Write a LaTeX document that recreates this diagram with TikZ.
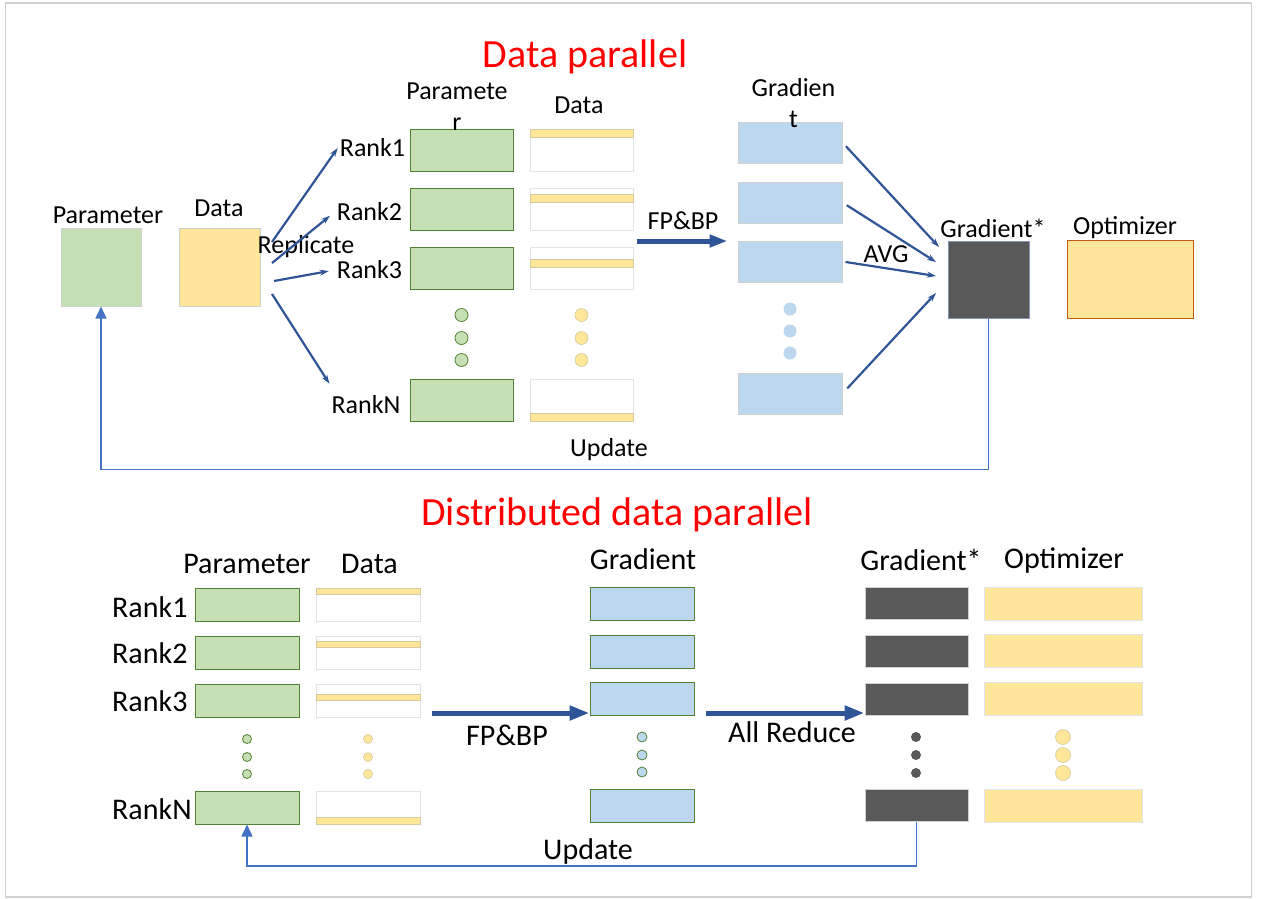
\documentclass[tikz,border=0pt]{standalone}
\usepackage{fontspec}
\setmainfont{Carlito}
\usetikzlibrary{arrows.meta, positioning}

\definecolor{parfill}{HTML}{C5E0B4}
\definecolor{pardraw}{HTML}{548235}
\definecolor{datfill}{HTML}{FFE699}
\definecolor{datdraw}{HTML}{E3E3EC}
\definecolor{stripedraw}{HTML}{D5CB9E}
\definecolor{gradfill}{HTML}{BDD7EE}
\definecolor{gstarfill}{HTML}{595959}
\definecolor{gstardraw}{HTML}{8497B0}
\definecolor{optdraw}{HTML}{C55A11}
\definecolor{flow}{HTML}{2F5597}
\definecolor{updline}{HTML}{4472C4}
\definecolor{lightline}{HTML}{D0D0D0}

\begin{document}
\begin{tikzpicture}[
    x=1pt, y=-1pt,
    lab/.style={font=\fontsize{26}{31}\selectfont, inner sep=2pt, align=center},
    blab/.style={font=\fontsize{30}{36}\selectfont, inner sep=2pt},
    title/.style={font=\fontsize{40}{48}\selectfont, text=red, inner sep=2pt},
    cell/.style={rectangle, inner sep=0pt, line width=1pt},
    parbox/.style={cell, fill=parfill, draw=pardraw, minimum width=103pt, minimum height=42pt},
    datbox/.style={cell, fill=white, draw=datdraw, minimum width=103pt, minimum height=42pt},
    stripe/.style={cell, fill=datfill, draw=stripedraw, line width=0.8pt, minimum width=103pt, minimum height=8pt},
    gradbox/.style={cell, fill=gradfill, draw=lightline, minimum width=104pt, minimum height=41pt},
    bparbox/.style={parbox, minimum width=104pt, minimum height=33pt},
    bdatbox/.style={datbox, minimum width=104pt, minimum height=33pt},
    bstripe/.style={stripe, minimum width=104pt, minimum height=6.5pt},
    bgradbox/.style={gradbox, draw=pardraw, minimum height=33pt},
    bgstar/.style={cell, fill=gstarfill, draw=lightline, minimum width=103pt, minimum height=32pt},
    bopt/.style={cell, fill=datfill, draw=datdraw, minimum width=158pt, minimum height=33pt},
    pdot/.style={circle, inner sep=0pt, minimum size=13pt, fill=parfill, draw=pardraw, line width=0.8pt},
    ydot/.style={circle, inner sep=0pt, minimum size=13pt, fill=datfill, draw=stripedraw, line width=0.6pt},
    gdot/.style={circle, inner sep=0pt, minimum size=13pt, fill=gradfill},
    rep/.style={draw=flow, line width=2.2pt, -{Stealth[length=9pt, width=6pt]}},
    big/.style={draw=flow, line width=5pt, -{Triangle[length=18pt, width=12pt]}},
    back/.style={draw=updline, line width=1.5pt, -{Triangle[length=12pt, width=11pt]}}
  ]

  \useasboundingbox (0,0) rectangle (1261,898);
  % Khung ngoài
  \draw[lightline, line width=1.2pt] (5.5,3) rectangle (1251.5,897);

  % Tiêu đề
  \node[title] (tdp) at (585,57) {Data parallel};
  \node[title] (tddp) at (617,515) {Distributed data parallel};

  % ---- Data parallel ----
  \node[cell, fill=parfill, draw=lightline, minimum width=80pt, minimum height=78pt] (param) at (101,267) {};
  \node[cell, fill=datfill, draw=lightline, minimum width=81pt, minimum height=78pt] (data) at (219.5,267) {};
  \node[lab] (lparam) at (108,215) {Parameter};
  \node[lab] (ldata) at (219,208) {Data};
  \node[lab] (lrep) at (306,247) {Replicate};

  \node[lab] (r1) at (372.5,148) {Rank1};
  \node[lab] (r2) at (369.5,212) {Rank2};
  \node[lab] (r3) at (369.5,270) {Rank3};
  \node[lab] (rN) at (366,405) {RankN};

  \node[parbox] (p1) at (461.5,150) {};
  \node[parbox] (p2) at (461.5,209) {};
  \node[parbox] (p3) at (461.5,268.5) {};
  \node[parbox] (pN) at (461.5,400) {};
  \node[pdot] (pd1) at (461.5,315) {};
  \node[pdot] (pd2) at (461.5,338) {};
  \node[pdot] (pd3) at (461.5,360) {};

  \node[datbox] (d1) at (581.5,150) {};
  \node[datbox] (d2) at (581.5,209) {};
  \node[datbox] (d3) at (581.5,268.5) {};
  \node[datbox] (dN) at (581.5,400) {};
  \node[stripe, below=0pt of d1.north] (s1) {};
  \node[stripe, below=6pt of d2.north] (s2) {};
  \node[stripe, below=12pt of d3.north] (s3) {};
  \node[stripe, above=0pt of dN.south] (sN) {};
  \node[ydot] (dd1) at (581.5,315) {};
  \node[ydot] (dd2) at (581.5,338) {};
  \node[ydot] (dd3) at (581.5,360) {};

  \node[gradbox] (g1) at (790,142.5) {};
  \node[gradbox] (g2) at (790,202.5) {};
  \node[gradbox] (g3) at (790,261.5) {};
  \node[gradbox] (gN) at (790,393.5) {};
  \node[gdot] (gd1) at (790,309) {};
  \node[gdot] (gd2) at (790,331) {};
  \node[gdot] (gd3) at (790,353) {};

  % nhãn cột (vẽ sau để nằm trên hộp)
  \node[lab] (lcolp) at (457,107) {Paramete\\r};
  \node[lab] (lcold) at (579,105.5) {Data};
  \node[lab] (lcolg) at (793.5,103) {Gradien\\t};

  \node[cell, fill=gstarfill, draw=gstardraw, minimum width=81pt, minimum height=77pt] (gs) at (988.5,279.5) {};
  \node[cell, fill=datfill, draw=optdraw, minimum width=126pt, minimum height=78pt] (opt) at (1130,279) {};
  \node[lab] (lgs) at (993,228.5) {Gradient*};
  \node[lab] (lopt) at (1125,228) {Optimizer};

  % Mũi tên phía trên
  \coordinate (rp1) at (272,242);
  \coordinate (rp2) at (272,263);
  \coordinate (rp3) at (274,281);
  \coordinate (rp4) at (272,294);
  \draw[rep] (rp1) -- (r1.west);
  \draw[rep, shorten >=6pt] (rp2) -- (r2.west);
  \draw[rep, shorten >=6pt] (rp3) -- (r3.west);
  \draw[rep] (rp4) -- ([yshift=10pt]rN.north west);

  \coordinate (fpa) at (637,241);
  \draw[big, shorten >=10pt] (fpa) -- (fpa -| g3.west);
  \node[lab] (lfpa) at (683,221) {FP\&BP};

  \coordinate (av1) at (939,247);
  \coordinate (av2) at (936,262);
  \coordinate (av3) at (936,276);
  \coordinate (av4) at (936,293);
  \draw[rep, shorten <=5pt] (g1.east) -- (av1);
  \draw[rep, shorten <=5pt] (g2.east) -- (av2);
  \draw[rep, shorten <=3pt] (g3.east) -- (av3);
  \draw[rep, shorten <=7pt] (gN.east) -- (av4);
  \node[lab] (lavg) at (886,254) {AVG};

  \draw[back] (gs.south) -- ++(0,151) -| (param.south);
  \node[lab] (lupa) at (609,450) {Update};

  % ---- Distributed data parallel ----
  \node[blab] (blparam) at (247,564) {Parameter};
  \node[blab] (bldata) at (369.5,564) {Data};
  \node[blab] (blgrad) at (643,559.5) {Gradient};
  \node[blab] (blgs) at (921,559.5) {Gradient*};
  \node[blab] (blopt) at (1064,561) {Optimizer};

  \node[blab, anchor=west] (br1) at (110,607) {Rank1};
  \node[blab, anchor=west] (br2) at (110,653) {Rank2};
  \node[blab, anchor=west] (br3) at (110,701) {Rank3};
  \node[blab, anchor=west] (brN) at (110,809) {RankN};

  \node[bparbox] (bp1) at (247,604.5) {};
  \node[bparbox] (bp2) at (247,652.5) {};
  \node[bparbox] (bp3) at (247,700.5) {};
  \node[bparbox] (bpN) at (247,807.5) {};
  \node[pdot, minimum size=9pt] (bpd1) at (247,739) {};
  \node[pdot, minimum size=9pt] (bpd2) at (247,757) {};
  \node[pdot, minimum size=9pt] (bpd3) at (247,774) {};

  \node[bdatbox] (bd1) at (368,604.5) {};
  \node[bdatbox] (bd2) at (368,652.5) {};
  \node[bdatbox] (bd3) at (368,700.5) {};
  \node[bdatbox] (bdN) at (368,807.5) {};
  \node[bstripe, below=0pt of bd1.north] (bs1) {};
  \node[bstripe, below=5pt of bd2.north] (bs2) {};
  \node[bstripe, below=10pt of bd3.north] (bs3) {};
  \node[bstripe, above=0pt of bdN.south] (bsN) {};
  \node[ydot, minimum size=9pt] (bdd1) at (368,739) {};
  \node[ydot, minimum size=9pt] (bdd2) at (368,757) {};
  \node[ydot, minimum size=9pt] (bdd3) at (368,774) {};

  \node[bgradbox] (bg1) at (642,603.5) {};
  \node[bgradbox] (bg2) at (642,651.5) {};
  \node[bgradbox] (bg3) at (642,699) {};
  \node[bgradbox] (bgN) at (642,805.5) {};
  \node[gdot, draw=pardraw, line width=0.8pt, minimum size=10pt] (bgd1) at (642,737) {};
  \node[gdot, draw=pardraw, line width=0.8pt, minimum size=10pt] (bgd2) at (642,755) {};
  \node[gdot, draw=pardraw, line width=0.8pt, minimum size=10pt] (bgd3) at (642,772) {};

  \node[bgstar] (bgs1) at (916.5,603) {};
  \node[bgstar] (bgs2) at (916.5,651) {};
  \node[bgstar] (bgs3) at (916.5,699) {};
  \node[bgstar] (bgsN) at (916.5,805.5) {};
  \node[gdot, fill=gstarfill, minimum size=10pt] (bsd1) at (916,737) {};
  \node[gdot, fill=gstarfill, minimum size=10pt] (bsd2) at (916,755) {};
  \node[gdot, fill=gstarfill, minimum size=10pt] (bsd3) at (916,773) {};

  \node[bopt] (bo1) at (1063,603.5) {};
  \node[bopt] (bo2) at (1063,651) {};
  \node[bopt] (bo3) at (1063,699) {};
  \node[bopt] (boN) at (1063,806) {};
  \node[ydot, minimum size=15pt] (bod1) at (1063,737) {};
  \node[ydot, minimum size=15pt] (bod2) at (1063,755) {};
  \node[ydot, minimum size=15pt] (bod3) at (1063,773) {};

  % Mũi tên phía dưới
  \coordinate (fpb) at (432,713);
  \draw[big, -{Triangle[length=20pt, width=14pt]}] (fpb) -- (fpb -| bg3.west);
  \node[blab] (blfpb) at (507,735.5) {FP\&BP};

  \coordinate (arb) at (706,713);
  \draw[big, -{Triangle[length=20pt, width=14pt]}] (arb) -- (arb -| bgs3.west);
  \node[blab] (blar) at (792,732) {All Reduce};

  \draw[back] (bgsN.south) -- ++(0,44) -| (bpN.south);
  \node[blab] (blupd) at (588,851) {Update};

\end{tikzpicture}
\end{document}
